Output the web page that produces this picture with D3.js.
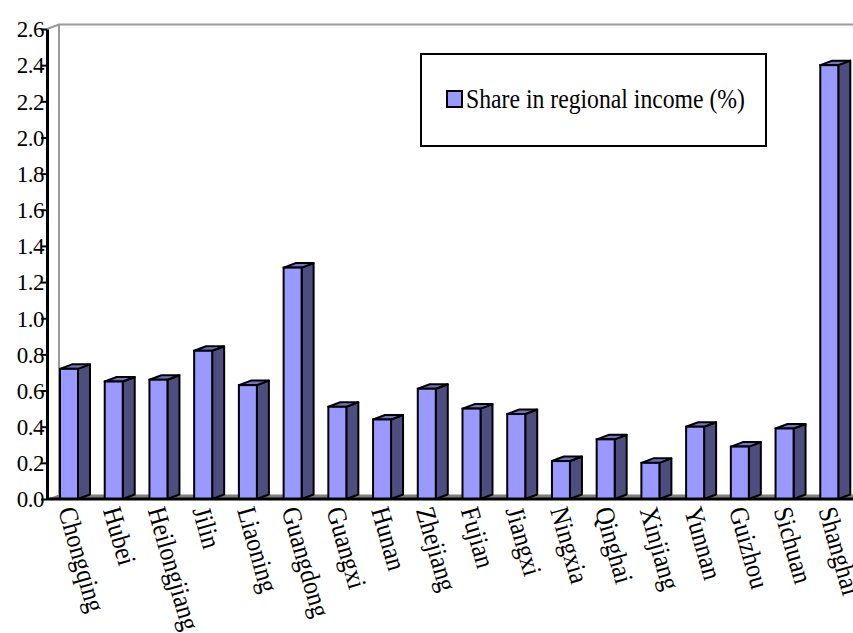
<!DOCTYPE html>
<html>
<head>
<meta charset="utf-8">
<script src="https://cdn.jsdelivr.net/npm/d3@7"></script>
<style>
  body { margin: 0; background: #fff; }
</style>
</head>
<body>
<div id="chart"></div>
<script>
// Data
const provinces = ["Chongqing", "Hubei", "Heilongjiang", "Jilin", "Liaoning", "Guangdong",
    "Guangxi", "Hunan", "Zhejiang", "Fujian", "Jiangxi", "Ningxia", "Qinghai",
    "Xinjiang", "Yunnan", "Guizhou", "Sichuan", "Shanghai"];
const shares = [0.72, 0.65, 0.66, 0.82, 0.63, 1.28, 0.51, 0.44, 0.61, 0.50, 0.47,
    0.21, 0.33, 0.20, 0.40, 0.29, 0.39, 2.40];
const yTicks = [0, 0.2, 0.4, 0.6, 0.8, 1.0, 1.2, 1.4, 1.6, 1.8, 2.0, 2.2, 2.4, 2.6];
const seriesName = "Share in regional income (%)";

const data = provinces.map((p, i) => ({ name: p, value: shares[i] }));

// Dimensions
const width = 853, height = 633;
const plotLeft = 47, plotRight = 852, plotTop = 29, plotBottom = 499;
const depthX = 12, depthY = -4.5;   // 3d offset
const barW = 18;
const serif = "'Liberation Serif', 'Times New Roman', Times, serif";

const svg = d3.select("#chart").append("svg")
    .attr("width", width)
    .attr("height", height);

const x = d3.scaleBand()
    .domain(provinces)
    .range([plotLeft, plotRight]);

const y = d3.scaleLinear()
    .domain([0, 2.6])
    .range([plotBottom, plotTop]);

// back wall (grey lines)
svg.append("path")
    .attr("d", `M${plotLeft},${plotTop} L${plotLeft + depthX},${plotTop + depthY} L${width},${plotTop + depthY}`
        + ` M${plotLeft + depthX},${plotTop + depthY} L${plotLeft + depthX},${plotBottom + depthY}`)
    .attr("fill", "none")
    .attr("stroke", "#999")
    .attr("stroke-width", 2);

// floor
svg.append("path")
    .attr("d", `M${plotLeft},${plotBottom} L${plotLeft + depthX},${plotBottom + depthY} L${width},${plotBottom + depthY} L${width},${plotBottom} Z`)
    .attr("fill", "#808080");

// bars
const bars = svg.selectAll("g.bar")
    .data(data)
    .enter()
    .append("g")
    .attr("class", "bar");

// side face
bars.append("path")
    .attr("d", d => {
        const x1 = x(d.name) + 13 + barW;
        const yt = y(d.value), yb = y(0);
        return `M${x1},${yb} L${x1},${yt} L${x1 + depthX},${yt + depthY} L${x1 + depthX},${yb + depthY} Z`;
    })
    .attr("fill", "#4d4d80")
    .attr("stroke", "#000")
    .attr("stroke-width", 2)
    .attr("stroke-linejoin", "round");

// top face
bars.append("path")
    .attr("d", d => {
        const x0 = x(d.name) + 13;
        const yt = y(d.value);
        return `M${x0},${yt} L${x0 + barW},${yt} L${x0 + barW + depthX},${yt + depthY} L${x0 + depthX},${yt + depthY} Z`;
    })
    .attr("fill", "#7373bf")
    .attr("stroke", "#000")
    .attr("stroke-width", 2)
    .attr("stroke-linejoin", "round");

// front face
bars.append("rect")
    .attr("x", d => x(d.name) + 13)
    .attr("y", d => y(d.value))
    .attr("width", barW)
    .attr("height", d => y(0) - y(d.value))
    .attr("fill", "#9999ff")
    .attr("stroke", "#000")
    .attr("stroke-width", 2);

// Y axis
const yAxis = svg.append("g")
    .attr("transform", "translate(" + plotLeft + ",0)")
    .call(d3.axisLeft(y).tickValues(yTicks).tickFormat(d3.format(".1f")).tickSize(6).tickSizeOuter(0));
yAxis.attr("font-family", null);
yAxis.select(".domain").attr("stroke", "#000").attr("stroke-width", 3);
yAxis.selectAll(".tick line").attr("stroke", "#000").attr("stroke-width", 2);
yAxis.selectAll(".tick text")
    .attr("x", -3)
    .attr("dy", "0.34em")
    .style("font-family", serif)
    .style("font-size", "23px")
    .attr("fill", "#000")
    .attr("letter-spacing", -0.5);

// X axis line
svg.append("line")
    .attr("x1", plotLeft)
    .attr("x2", width)
    .attr("y1", plotBottom)
    .attr("y2", plotBottom)
    .attr("stroke", "#000")
    .attr("stroke-width", 3);

// category labels (condensed serif, slanted)
svg.selectAll("text.cat")
    .data(provinces)
    .enter()
    .append("text")
    .attr("class", "cat")
    .attr("transform", d => `translate(${x(d) + 11},${plotBottom + 11}) rotate(74) scale(0.9,1)`)
    .style("font-family", serif)
    .style("font-size", "27px")
    .attr("fill", "#000")
    .text(d => d);

// legend
const legend = svg.append("g");
legend.append("rect")
    .attr("x", 421)
    .attr("y", 54)
    .attr("width", 345)
    .attr("height", 92)
    .attr("fill", "#fff")
    .attr("stroke", "#000")
    .attr("stroke-width", 2);
legend.append("rect")
    .attr("x", 447)
    .attr("y", 91)
    .attr("width", 15)
    .attr("height", 16)
    .attr("fill", "#9999ff")
    .attr("stroke", "#000")
    .attr("stroke-width", 2);
legend.append("text")
    .attr("x", 466)
    .attr("y", 108)
    .style("font-family", serif)
    .style("font-size", "27px")
    .attr("textLength", 279)
    .attr("lengthAdjust", "spacingAndGlyphs")
    .attr("fill", "#000")
    .text(seriesName);
</script>
</body>
</html>
